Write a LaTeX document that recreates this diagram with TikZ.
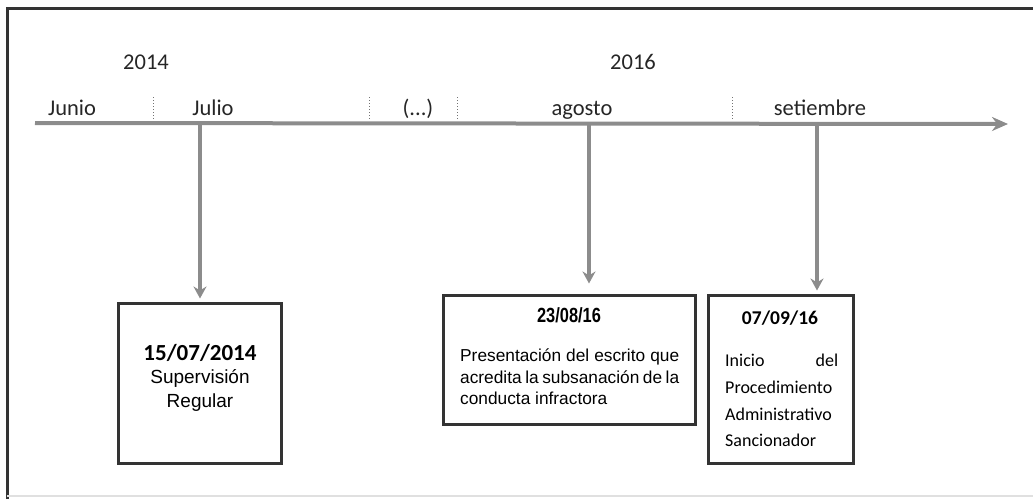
\documentclass[tikz,border=0pt]{standalone}
\usepackage{fontspec}
\setmainfont{Carlito}
\newfontfamily\arialf{Liberation Sans}
\usetikzlibrary{arrows.meta}
\tikzset{
  lbl/.style={anchor=base, inner sep=0pt, font=\fontsize{22.5}{27}\selectfont, text=black!85},
  tick/.style={draw=black!55, line width=1pt, dotted},
  tline/.style={draw=black!45, line width=4pt},
  evarrow/.style={draw=black!45, line width=4pt, -{Stealth[length=12pt,width=13pt]}},
  evbox/.style={draw=black!80, line width=3pt, inner sep=0pt},
}
\begin{document}
\begin{tikzpicture}[x=1pt,y=-1pt]
\useasboundingbox (0,0) rectangle (1033,499);
% frame
\draw[black!80, line width=3pt] (7,499) -- (7,8) -- (1033,8);
\draw[black!12, line width=1.5pt] (7,496) -- (1033,496);
% years
\node[lbl] (y14) at (146,69) {2014};
\node[lbl] (y16) at (633,69) {2016};
% months
\node[lbl] (m1) at (72,115) {Junio};
\node[lbl] (m2) at (213,115) {Julio};
\node[lbl] (m3) at (418,115) {(...)};
\node[lbl] (m4) at (582,115) {agosto};
\node[lbl] (m5) at (820,115) {setiembre};
% ticks
\draw[tick] (153,97) -- (153,120);
\draw[tick] (369,97) -- (369,120);
\draw[tick] (457,97) -- (457,120);
\draw[tick] (732,97) -- (732,120);
% timeline
\coordinate (t0) at (35,123);
\coordinate (t1) at (1008,124);
\draw[tline, -{Stealth[length=16pt,width=14pt]}] (t0) -- (t1);
% boxes
\node[evbox, minimum width=163pt, minimum height=160pt] (b1) at (199.5,383) {};
\node[evbox, minimum width=252pt, minimum height=129pt] (b2) at (569,359.5) {};
\node[evbox, minimum width=145pt, minimum height=168pt] (b3) at (780.5,379) {};
% box 1 text
\node[anchor=base, inner sep=0pt, font=\bfseries\fontsize{23}{27}\selectfont] (d1) at (200,360) {15/07/2014};
\node[anchor=base, inner sep=0pt, font=\arialf\fontsize{19}{23.5}\selectfont] (s1) at (200,383) {Supervisión};
\node[anchor=base, inner sep=0pt, font=\arialf\fontsize{19}{23.5}\selectfont] (r1) at (200,407) {Regular};
% box 2 text
\node[anchor=base, inner sep=0pt, font=\arialf\bfseries\fontsize{20.5}{24}\selectfont] (d2) at (569,322) {\scalebox{0.8}[1]{23/08/16}};
\node[anchor=north west, inner sep=0pt, text width=219pt, align=justify, font=\arialf\fontsize{17.3}{21.5}\selectfont] (p2) at (460,349)
  {Presentación del escrito que acredita la subsanación de la conducta infractora};
% box 3 text
\node[anchor=base, inner sep=0pt, font=\bfseries\fontsize{19.5}{24}\selectfont] (d3) at (780,324) {07/09/16};
\node[anchor=north west, inner sep=0pt, text width=113pt, align=left, font=\fontsize{18}{26.7}\selectfont] (p3) at (725,354)
  {Inicio\hfill del\\Procedimiento\\Administrativo\\Sancionador};
% event arrows
\coordinate (e1) at (200,125);
\coordinate (e2) at (589,125);
\coordinate (e3) at (817,125);
\draw[evarrow, shorten >=3pt] (e1) -- (e1 |- b1.north);
\draw[evarrow, shorten >=10pt] (e2) -- (e2 |- b2.north);
\draw[evarrow, shorten >=3pt] (e3) -- (e3 |- b3.north);
\end{tikzpicture}
\end{document}
